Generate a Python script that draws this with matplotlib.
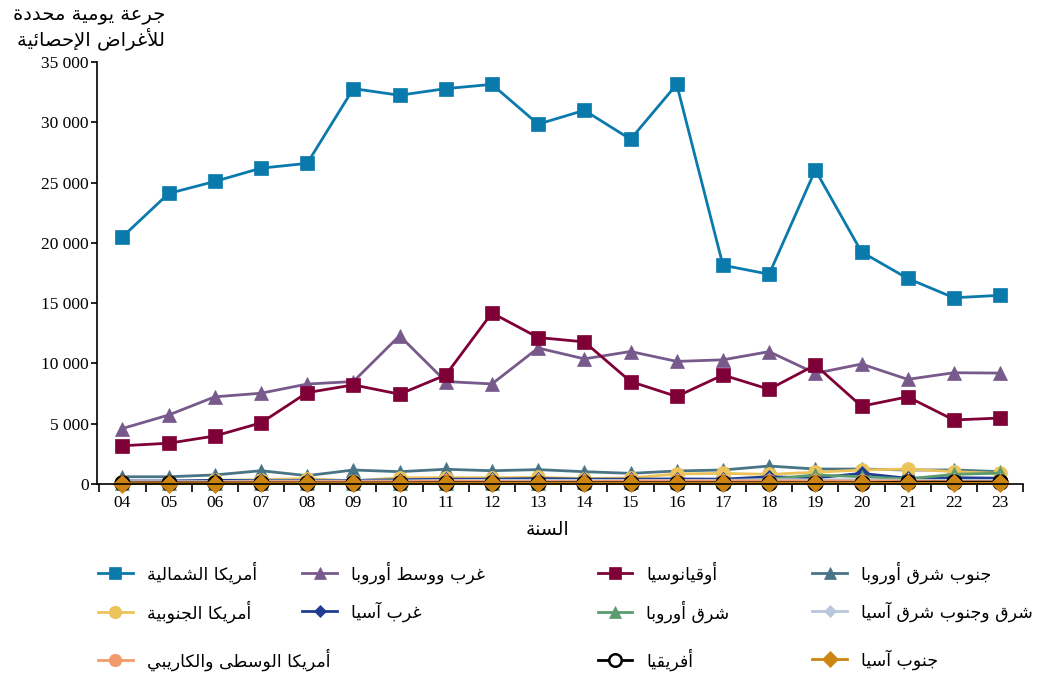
import matplotlib
matplotlib.use("Agg")
import matplotlib.pyplot as plt
from matplotlib.lines import Line2D
from matplotlib.ticker import FuncFormatter, MultipleLocator

# ── Datos ──────────────────────────────────────────────────────────────────────
years = ["04", "05", "06", "07", "08", "09", "10", "11", "12", "13",
         "14", "15", "16", "17", "18", "19", "20", "21", "22", "23"]

north_america = [20500, 24100, 25100, 26200, 26600, 32800, 32250, 32800, 33150, 29850,
                 31000, 28600, 33150, 18150, 17400, 26050, 19250, 17050, 15450, 15650]
west_central_europe = [4600, 5720, 7230, 7530, 8290, 8500, 12300, 8500, 8300, 11280,
                       10380, 10990, 10170, 10300, 10980, 9180, 9950, 8680, 9230, 9200]
oceania = [3170, 3380, 3980, 5070, 7580, 8220, 7450, 9040, 14190, 12150,
           11790, 8500, 7260, 9040, 7860, 9870, 6450, 7230, 5310, 5470]
southeast_europe = [600, 600, 750, 1100, 690, 1160, 1020, 1220, 1100, 1190,
                    1020, 880, 1080, 1160, 1490, 1240, 1240, 1160, 1160, 1020]
south_america = [150, 150, 300, 350, 450, 250, 520, 520, 520, 550,
                 450, 500, 830, 880, 800, 970, 1160, 1240, 1020, 880]
west_asia = [250, 250, 300, 300, 300, 300, 350, 400, 400, 450,
             400, 400, 420, 400, 600, 500, 880, 470, 520, 480]
east_europe = [50, 50, 50, 50, 100, 100, 100, 100, 100, 100,
               150, 150, 200, 250, 400, 750, 600, 420, 800, 900]
east_se_asia = [200, 200, 200, 250, 250, 250, 250, 300, 300, 300,
                300, 300, 300, 300, 350, 350, 350, 300, 300, 300]
central_america = [150, 150, 150, 200, 200, 200, 200, 250, 200, 200,
                   200, 250, 250, 250, 250, 250, 250, 250, 200, 200]
africa = [80, 80, 80, 80, 80, 80, 80, 100, 100, 100,
          100, 100, 100, 100, 100, 100, 100, 150, 150, 150]
south_asia = [30, 30, 30, 40, 40, 40, 40, 50, 50, 50,
              50, 50, 50, 60, 60, 60, 60, 60, 60, 60]

# ── Conformado del árabe (matplotlib no hace shaping ni RTL) ───────────────────
_FORMS = {}
_code = 0xFE80
for _ch, _n in [("ء", 1), ("آ", 2), ("أ", 2), ("ؤ", 2), ("إ", 2), ("ئ", 4), ("ا", 2),
                ("ب", 4), ("ة", 2), ("ت", 4), ("ث", 4), ("ج", 4), ("ح", 4), ("خ", 4),
                ("د", 2), ("ذ", 2), ("ر", 2), ("ز", 2), ("س", 4), ("ش", 4), ("ص", 4),
                ("ض", 4), ("ط", 4), ("ظ", 4), ("ع", 4), ("غ", 4), ("ف", 4), ("ق", 4),
                ("ك", 4), ("ل", 4), ("م", 4), ("ن", 4), ("ه", 4), ("و", 2), ("ى", 2),
                ("ي", 4)]:
    _FORMS[_ch] = [chr(_code + i) for i in range(_n)]
    _code += _n
_LAM_ALEF = {"آ": 0xFEF5, "أ": 0xFEF7, "إ": 0xFEF9, "ا": 0xFEFB}


def ar(text):
    units = []
    i = 0
    while i < len(text):
        c = text[i]
        if c == "ل" and i + 1 < len(text) and text[i + 1] in _LAM_ALEF:
            units.append("ل" + text[i + 1])
            i += 2
        else:
            units.append(c)
            i += 1

    def nforms(u):
        if len(u) == 2:
            return 2
        return len(_FORMS.get(u, []))

    out = []
    for k, u in enumerate(units):
        n = nforms(u)
        if n == 0:
            out.append(u)
            continue
        prev_joins = k > 0 and nforms(units[k - 1]) == 4
        next_joins = n == 4 and k + 1 < len(units) and nforms(units[k + 1]) >= 2
        if prev_joins and next_joins:
            idx = 3
        elif next_joins:
            idx = 2
        elif prev_joins:
            idx = 1
        else:
            idx = 0
        if len(u) == 2:
            out.append(chr(_LAM_ALEF[u[1]] + idx))
        else:
            out.append(_FORMS[u][idx])
    return "".join(out)[::-1]


AR_FONT = ["DejaVu Sans"]
NUM_FONT = ["Liberation Serif", "DejaVu Serif"]

# ── Series (etiqueta, datos, color, marcador, tamaño, relleno) ────────────────
SERIES = [
    ("أمريكا الشمالية", north_america, "#0a7aad", "s", 10, None),
    ("غرب ووسط أوروبا", west_central_europe, "#775a8b", "^", 10, None),
    ("أوقيانوسيا", oceania, "#7f0037", "s", 10, None),
    ("جنوب شرق أوروبا", southeast_europe, "#487486", "^", 10, None),
    ("أمريكا الجنوبية", south_america, "#ebc35a", "o", 10, None),
    ("غرب آسيا", west_asia, "#1f3e92", "D", 7, None),
    ("شرق أوروبا", east_europe, "#5b9b6e", "^", 10, None),
    ("شرق وجنوب شرق آسيا", east_se_asia, "#b8c8da", "D", 7, None),
    ("أمريكا الوسطى والكاريبي", central_america, "#f29a6c", "o", 10, None),
    ("أفريقيا", africa, "#000000", "o", 10, "white"),
    ("جنوب آسيا", south_asia, "#cc8512", "D", 9, None),
]

fig = plt.figure(figsize=(10.43, 6.75), dpi=100)
ax = fig.add_axes([0.093, 0.283, 0.888, 0.625])

x = list(range(len(years)))
handles = {}
for label, vals, color, marker, ms, face in SERIES:
    ln, = ax.plot(x, vals, color=color, linewidth=2.0, marker=marker, markersize=ms,
                  markerfacecolor=face if face else color,
                  markeredgecolor=color, markeredgewidth=1.8 if face else 0.5,
                  clip_on=False)
    handles[label] = ln

ax.set_xlim(-0.55, 19.5)
ax.set_ylim(0, 35000)
ax.set_xticks(x)
ax.set_xticklabels(years)
ax.xaxis.set_minor_locator(MultipleLocator(1, offset=0.5))
ax.tick_params(axis="x", which="major", length=0, pad=8)
ax.tick_params(axis="x", which="minor", length=6, width=1.2, direction="out")
ax.yaxis.set_major_locator(MultipleLocator(5000))
ax.yaxis.set_major_formatter(FuncFormatter(lambda v, p: f"{int(v):,}".replace(",", " ")))
ax.tick_params(axis="y", length=4, width=1.2, direction="out", pad=2)
for lab in ax.get_xticklabels() + ax.get_yticklabels():
    lab.set_fontfamily(NUM_FONT)
    lab.set_fontsize(12.5)
for s in ("top", "right"):
    ax.spines[s].set_visible(False)
for s in ("left", "bottom"):
    ax.spines[s].set_linewidth(1.2)

# Títulos de ejes
fig.text(0.158, 0.977, ar("جرعة يومية محددة"), ha="right", va="center",
         fontsize=14, family=AR_FONT)
fig.text(0.158, 0.942, ar("للأغراض الإحصائية"), ha="right", va="center",
         fontsize=14, family=AR_FONT)
fig.text(0.525, 0.216, ar("السنة"), ha="center", va="center",
         fontsize=13.5, family=AR_FONT)

# ── Leyenda: columnas x, filas y (coordenadas de figura) ──────────────────────
COL_X = [0.094, 0.290, 0.573, 0.779]
ROW_Y = [0.152, 0.094, 0.023]
LAYOUT = [
    ["أمريكا الشمالية", "أمريكا الجنوبية", "أمريكا الوسطى والكاريبي"],
    ["غرب ووسط أوروبا", "غرب آسيا"],
    ["أوقيانوسيا", "شرق أوروبا", "أفريقيا"],
    ["جنوب شرق أوروبا", "شرق وجنوب شرق آسيا", "جنوب آسيا"],
]
for xpos, labels in zip(COL_X, LAYOUT):
    for ypos, lab in zip(ROW_Y, labels):
        src = handles[lab]
        h = Line2D([], [], color=src.get_color(), linewidth=2.0,
                   marker=src.get_marker(), markersize=src.get_markersize() * 0.9,
                   markerfacecolor=src.get_markerfacecolor(),
                   markeredgecolor=src.get_markeredgecolor(),
                   markeredgewidth=src.get_markeredgewidth())
        fig.legend([h], [ar(lab)], loc="center left",
                   bbox_to_anchor=(xpos, ypos), frameon=False,
                   prop={"family": AR_FONT, "size": 12.5},
                   handlelength=2.0, handletextpad=0.8,
                   borderaxespad=0, borderpad=0)

fig.savefig("out.png", dpi=100)
